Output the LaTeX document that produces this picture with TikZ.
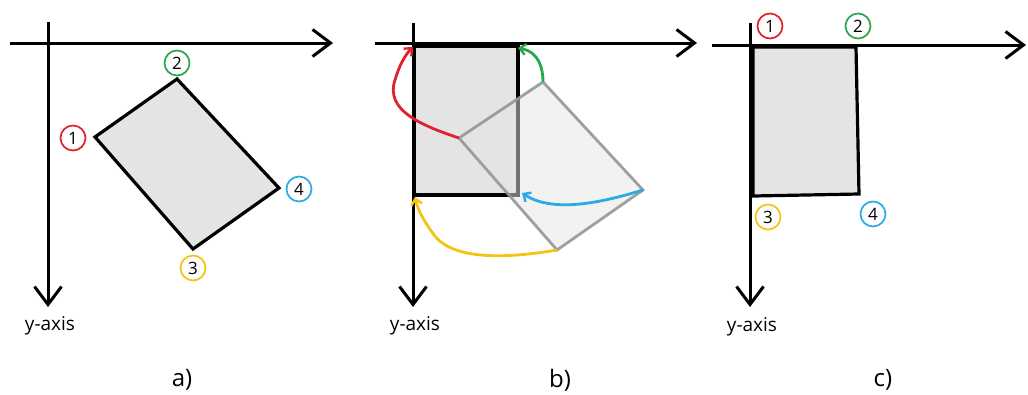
\documentclass[tikz,border=0pt]{standalone}
\usepackage{fontspec}
\setmainfont{Open Sans}
\usetikzlibrary{arrows.meta}
\definecolor{cred}{RGB}{222,35,45}
\definecolor{cgreen}{RGB}{40,168,75}
\definecolor{cblue}{RGB}{45,170,230}
\definecolor{cyellow}{RGB}{245,195,20}
\definecolor{rectfill}{RGB}{228,228,228}
\definecolor{ghost}{RGB}{150,150,150}
\tikzset{
  axisarrow/.style={line width=3pt,-{Straight Barb[length=18pt,width=27pt,line width=3pt]}},
  boxshape/.style={draw=black,line width=3.2pt,fill=rectfill,line join=miter},
  ghostshape/.style={draw=ghost,line width=2.8pt,fill=ghost!25,fill opacity=0.5,draw opacity=0.9},
  num/.style={circle,draw=#1,line width=1.7pt,minimum size=25pt,inner sep=0pt,font=\fontsize{17}{17}\selectfont},
  mv/.style={draw=#1,line width=2.8pt,-{Straight Barb[length=6pt,width=11pt,line width=2.4pt]}},
  axlabel/.style={font=\fontsize{19}{19}\selectfont,inner sep=0pt},
  captext/.style={font=\fontsize{24}{24}\selectfont,inner sep=0pt}
}
\begin{document}
\begin{tikzpicture}[x=1pt,y=-1pt]
\useasboundingbox (0,0) rectangle (1028,394);
% ---------- panel a ----------
\coordinate (aH0) at (10,43); \coordinate (aH1) at (333,43);
\coordinate (aV0) at (48,22); \coordinate (aV1) at (48,307);
\coordinate (a1) at (95,137); \coordinate (a2) at (177,79);
\coordinate (a4) at (279,188); \coordinate (a3) at (193,249);
\draw[boxshape] (a1) -- (a2) -- (a4) -- (a3) -- cycle;
\draw[axisarrow] (aH0) -- (aH1);
\draw[axisarrow] (aV0) -- (aV1);
\node[num=cred] (na1) at (73,138) {1};
\node[num=cgreen] (na2) at (177,63) {2};
\node[num=cblue] (na4) at (299,189) {4};
\node[num=cyellow] (na3) at (193,268) {3};
\node[axlabel] (ya) at (50,326) {y-axis};
\node[captext] (capa) at (182,380) {a)};
% ---------- panel b ----------
\coordinate (bH0) at (375,43); \coordinate (bH1) at (697,43);
\coordinate (bV0) at (413,23); \coordinate (bV1) at (413,307);
\coordinate (bt1) at (414,46); \coordinate (bt2) at (518,46);
\coordinate (bt4) at (518,195); \coordinate (bt3) at (414,195);
\coordinate (b1) at (459,138); \coordinate (b2) at (543,82);
\coordinate (b4) at (643,190); \coordinate (b3) at (557,250);
\draw[boxshape] (bt1) -- (bt2) -- (bt4) -- (bt3) -- cycle;
\draw[axisarrow] (bH0) -- (bH1);
\draw[axisarrow] (bV0) -- (bV1);
\draw[ghostshape] (b1) -- (b2) -- (b4) -- (b3) -- cycle;
\draw[mv=cred] (b1) .. controls (420,125) and (385,110) .. (395,80) .. controls (399,66) and (405,55) .. (413,47);
\draw[mv=cgreen] (b2) .. controls (543,70) and (540,52) .. (518,48);
\draw[mv=cblue] (b4) .. controls (610,200) and (555,215) .. (522,193);
\draw[mv=cyellow] (b3) .. controls (510,258) and (450,262) .. (432,232) .. controls (422,218) and (418,210) .. (415,197);
\node[axlabel] (yb) at (415,326) {y-axis};
\node[captext] (capb) at (560,380) {b)};
% ---------- panel c ----------
\coordinate (cH0) at (712,45); \coordinate (cH1) at (1026,45);
\coordinate (cV0) at (750,23); \coordinate (cV1) at (750,307);
\coordinate (c1) at (753,47); \coordinate (c2) at (856,47);
\coordinate (c4) at (859,194); \coordinate (c3) at (753,196);
\draw[boxshape] (c1) -- (c2) -- (c4) -- (c3) -- cycle;
\draw[axisarrow] (cH0) -- (cH1);
\draw[axisarrow] (cV0) -- (cV1);
\node[num=cred] (nc1) at (770,26) {1};
\node[num=cgreen] (nc2) at (858,26) {2};
\node[num=cyellow] (nc3) at (768,217) {3};
\node[num=cblue] (nc4) at (873,214) {4};
\node[axlabel] (yc) at (752,327) {y-axis};
\node[captext] (capc) at (883,380) {c)};
\end{tikzpicture}
\end{document}
